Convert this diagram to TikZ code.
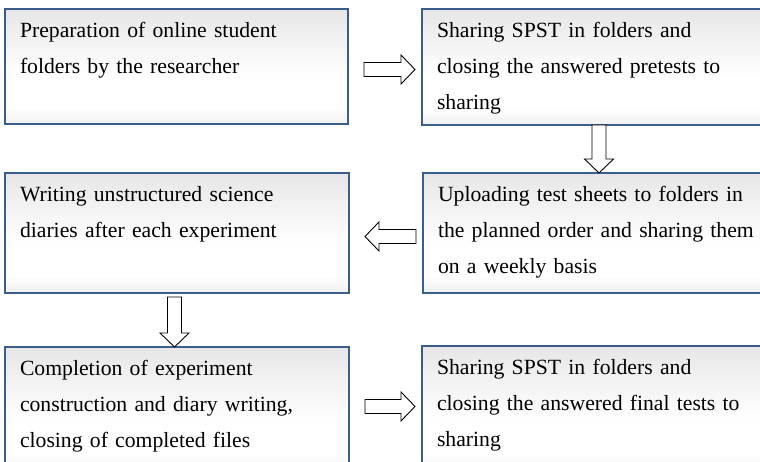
\documentclass[tikz,border=0pt]{standalone}
\usepackage{fontspec}
\setmainfont{Liberation Serif}
\usetikzlibrary{calc}
\definecolor{boxborder}{RGB}{58,94,140}
\pgfdeclareverticalshading{boxshade}{100bp}{color(0bp)=(black!24); color(12bp)=(black!17); color(32bp)=(white); color(46bp)=(white); color(88bp)=(black!14); color(100bp)=(black!16)}
\tikzset{
  flowbox/.style={draw=boxborder, line width=1.5pt, inner sep=0pt, outer sep=0pt,
    anchor=north west, shading=boxshade},
  txt/.style={anchor=north west, inner sep=0pt, outer sep=0pt, text width=330pt, align=left,
    font=\fontsize{21.7}{36}\selectfont, text=black},
  blockarrow/.style={draw=black, fill=white, line width=0.9pt, line join=miter}
}
\newcommand\harrow[2]{\draw[blockarrow] let \p1=#1, \p2=#2, \n2={\x2-14*(\x2-\x1)/abs(\x2-\x1)} in
  (\x1,\y1-7pt) -- (\n2,\y1-7pt) -- (\n2,\y1-14.5pt) -- (\x2,\y1) --
  (\n2,\y1+14.5pt) -- (\n2,\y1+7pt) -- (\x1,\y1+7pt) -- cycle;}
\newcommand\varrow[2]{\draw[blockarrow] let \p1=#1, \p2=#2, \n2={\y2-14*(\y2-\y1)/abs(\y2-\y1)} in
  (\x1-7pt,\y1) -- (\x1-7pt,\n2) -- (\x1-14.5pt,\n2) -- (\x1,\y2) --
  (\x1+14.5pt,\n2) -- (\x1+7pt,\n2) -- (\x1+7pt,\y1) -- cycle;}
\begin{document}
\begin{tikzpicture}[x=1pt,y=1pt]
\clip (0,0) rectangle (760,462);
\fill[white] (0,0) rectangle (760,462);
% boxes
\node[flowbox, minimum width=343pt, minimum height=115pt] (b1) at (5,453) {};
\node[flowbox, minimum width=348pt, minimum height=116pt] (b2) at (422,453) {};
\node[flowbox, minimum width=347pt, minimum height=120pt] (b3) at (423,289) {};
\node[flowbox, minimum width=344pt, minimum height=120pt] (b4) at (5,289) {};
\node[flowbox, minimum width=344pt, minimum height=125pt] (b5) at (5,115) {};
\node[flowbox, minimum width=348pt, minimum height=126pt] (b6) at (422,116) {};
% texts
\node[txt] (t1) at ($(b1.north west)+(15,-3.3)$) {\strut Preparation of online student\\folders by the researcher};
\node[txt] (t2) at ($(b2.north west)+(15,-3.3)$) {\strut Sharing SPST in folders and\\closing the answered pretests to\\sharing};
\node[txt] (t3) at ($(b3.north west)+(15,-3.3)$) {\strut\makebox[314pt][s]{Uploading test sheets to folders in}\\\makebox[314pt][s]{the planned order and sharing them}\\on a weekly basis};
\node[txt] (t4) at ($(b4.north west)+(15,-3.3)$) {\strut Writing unstructured science\\diaries after each experiment};
\node[txt] (t5) at ($(b5.north west)+(15,-3.3)$) {\strut Completion of experiment\\construction and diary writing,\\closing of completed files};
\node[txt] (t6) at ($(b6.north west)+(15,-3.3)$) {\strut Sharing SPST in folders and\\closing the answered final tests to\\sharing};
% arrow end points
\coordinate (a1s) at ($(b1.north east)+(16,-60.5)$);
\coordinate (a1e) at ($(b2.north west)+(-7,-60.5)$);
\coordinate (a2s) at ($(b2.south)+(3,0)$);
\coordinate (a2e) at ($(b3.north)+(2.5,0)$);
\coordinate (a3s) at ($(b3.north west)+(-7,-63.5)$);
\coordinate (a3e) at ($(b4.north east)+(16,-63.5)$);
\coordinate (a4s) at ($(b4.south)+(-2.5,-4)$);
\coordinate (a4e) at ($(b5.north)+(-2.5,0)$);
\coordinate (a5s) at ($(b5.north east)+(16,-59.5)$);
\coordinate (a5e) at ($(b6.north west)+(-7,-59.5)$);
% block arrows
\harrow{(a1s)}{(a1e)}
\varrow{(a2s)}{(a2e)}
\harrow{(a3s)}{(a3e)}
\varrow{(a4s)}{(a4e)}
\harrow{(a5s)}{(a5e)}
\end{tikzpicture}
\end{document}
